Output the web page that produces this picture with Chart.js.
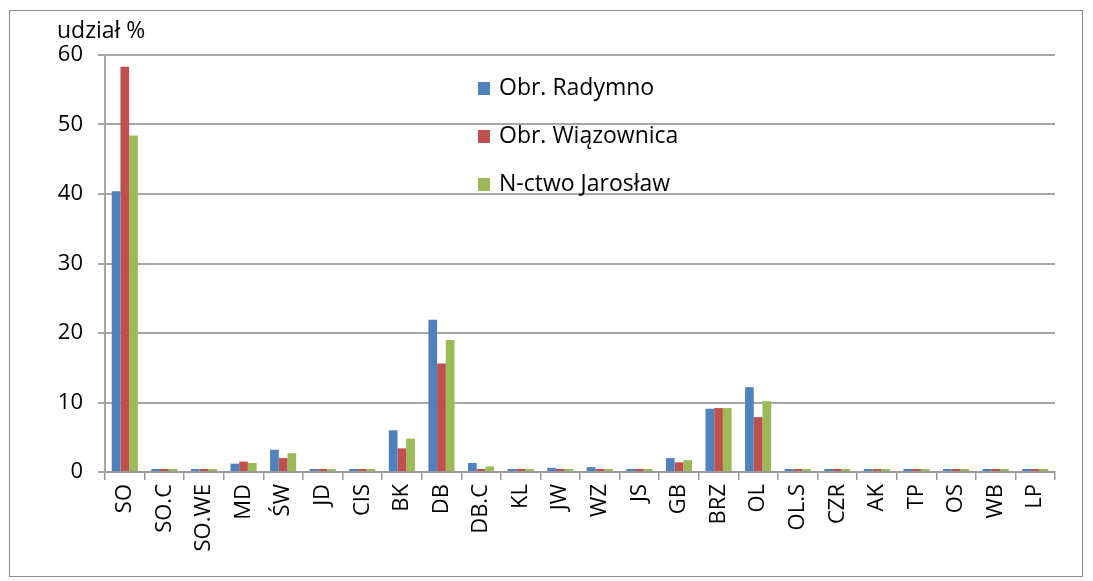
<!DOCTYPE html>
<html lang="pl">
<head>
  <meta charset="UTF-8">
  <title>Udział gatunków</title>
  <script src="https://cdn.jsdelivr.net/npm/chart.js"></script>
  <style>
    html, body { margin: 0; padding: 0; background: #fff; }
    #wrap { position: relative; width: 1093px; height: 581px; }
  </style>
</head>
<body>
  <div id="wrap"><canvas id="speciesChart"></canvas></div>

  <script>
    // --- DATA ---
    const categories = ['SO', 'SO.C', 'SO.WE', 'MD', 'ŚW', 'JD', 'CIS', 'BK', 'DB', 'DB.C', 'KL', 'JW',
                        'WZ', 'JS', 'GB', 'BRZ', 'OL', 'OL.S', 'CZR', 'AK', 'TP', 'OS', 'WB', 'LP'];
    const radymno    = [40.4, 0.1, 0.1, 1.2, 3.2, 0.1, 0.1, 6.0, 21.9, 1.3, 0.1, 0.6,
                        0.7, 0.2, 2.0, 9.1, 12.2, 0.1, 0.1, 0.2, 0.3, 0.3, 0.1, 0.1];
    const wiazownica = [58.3, 0.1, 0.1, 1.5, 2.0, 0.1, 0.1, 3.4, 15.6, 0.4, 0.1, 0.2,
                        0.2, 0.2, 1.4, 9.2, 7.9, 0.1, 0.1, 0.1, 0.1, 0.2, 0.1, 0.1];
    const jaroslaw   = [48.4, 0.1, 0.1, 1.3, 2.7, 0.1, 0.1, 4.8, 19.0, 0.8, 0.1, 0.3,
                        0.3, 0.2, 1.7, 9.2, 10.2, 0.1, 0.1, 0.1, 0.2, 0.2, 0.1, 0.1];
    const seriesNames = ['Obr. Radymno', 'Obr. Wiązownica', 'N-ctwo Jarosław'];
    const seriesColors = ['#4F81BD', '#C0504D', '#9BBB59'];
    const yTitle = 'udział %';

    const FONT = '"Open Sans", "Liberation Sans", sans-serif';

    // --- FRAME, AXIS TITLE, LEGEND ---
    const decorations = {
      id: 'decorations',
      beforeDraw(chart) {
        const ctx = chart.ctx;
        ctx.save();
        ctx.strokeStyle = '#8c8c8c';
        ctx.lineWidth = 1;
        ctx.strokeRect(9.5, 10.5, 1073, 566);
        ctx.restore();
      },
      afterDraw(chart) {
        const ctx = chart.ctx;
        ctx.save();
        ctx.font = '23px ' + FONT;
        ctx.fillStyle = '#000';
        ctx.textBaseline = 'middle';
        ctx.fillText(yTitle, 57, 31);

        // legend inside plot
        chart.data.datasets.forEach((ds, i) => {
          const y = 88 + i * 48;
          ctx.fillStyle = ds.backgroundColor;
          ctx.fillRect(478, y - 6, 12, 13);
          ctx.fillStyle = '#000';
          ctx.fillText(ds.label, 499, y);
        });
        ctx.restore();
      }
    };

    const ctx = document.getElementById('speciesChart').getContext('2d');
    new Chart(ctx, {
      type: 'bar',
      data: {
        labels: categories,
        datasets: [radymno, wiazownica, jaroslaw].map((vals, i) => ({
          label: seriesNames[i],
          data: vals,
          backgroundColor: seriesColors[i],
          borderWidth: 0,
          minBarLength: 3,
          barPercentage: 1.0,
          categoryPercentage: 0.66
        }))
      },
      options: {
        responsive: true,
        maintainAspectRatio: false,
        animation: false,
        layout: { padding: { top: 55, right: 38, bottom: 0, left: 0 } },
        plugins: { legend: { display: false }, tooltip: { enabled: false } },
        scales: {
          x: {
            afterFit: (s) => { s.height = 109; },
            grid: { drawOnChartArea: false, drawTicks: true, tickLength: 8, color: '#9a9a9a', lineWidth: 1.5 },
            border: { display: true, color: '#9a9a9a', width: 2 },
            ticks: {
              color: '#000', font: { family: FONT, size: 22 },
              minRotation: 90, maxRotation: 90, autoSkip: false, padding: 4
            }
          },
          y: {
            min: 0, max: 60,
            afterFit: (s) => { s.width = 105; },
            grid: { color: '#a6a6a6', lineWidth: 2, tickLength: 7 },
            border: { display: true, color: '#a6a6a6', width: 2 },
            ticks: { stepSize: 10, color: '#000', font: { family: FONT, size: 22 }, padding: 15 }
          }
        }
      },
      plugins: [decorations]
    });
  </script>
</body>
</html>
